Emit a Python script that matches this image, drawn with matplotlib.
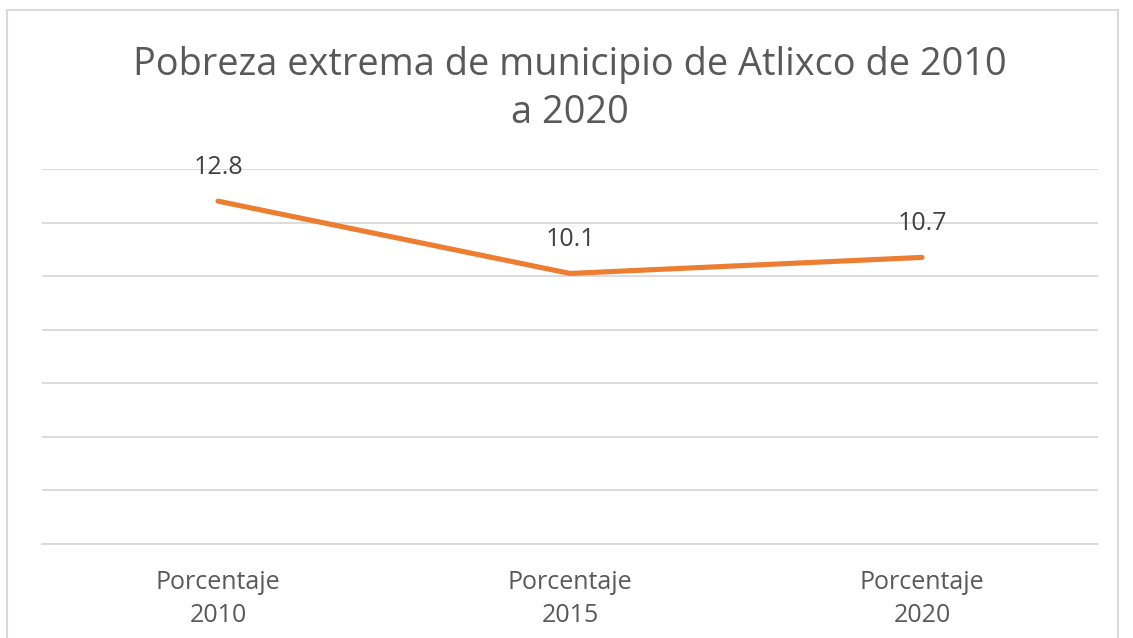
import matplotlib
matplotlib.use("Agg")
import matplotlib.pyplot as plt
from matplotlib.patches import Rectangle

categories = ["Porcentaje\n2010", "Porcentaje\n2015", "Porcentaje\n2020"]
values = [12.8, 10.1, 10.7]
labels = ["12.8", "10.1", "10.7"]
title = "Pobreza extrema de municipio de Atlixco de 2010\na 2020"

W, H = 1133, 638
fig = plt.figure(figsize=(W / 100, H / 100), dpi=100)
plt.rcParams['font.family'] = ['Open Sans', 'DejaVu Sans']

# chart border
fig.patches.append(Rectangle((7 / W, -0.01), (1118 - 7) / W, 1 - 10 / H + 0.01,
                             transform=fig.transFigure, fill=False,
                             edgecolor="#D9D9D9", linewidth=1.5))

ax = fig.add_axes([42 / W, 1 - 544 / H, (1098 - 42) / W, (544 - 169) / H])
x = list(range(len(categories)))
ax.plot(x, values, color="#ED7D31", linewidth=3.7, solid_capstyle="round", zorder=3)
ax.set_xlim(-0.5, len(categories) - 0.5)
ax.set_ylim(0, 14)
ax.set_yticks(range(0, 15, 2))
ax.yaxis.grid(True, color="#D9D9D9", linewidth=1.3)
ax.set_axisbelow(True)
for s in ["top", "right", "left"]:
    ax.spines[s].set_visible(False)
ax.spines["bottom"].set_color("#D9D9D9")
ax.spines["bottom"].set_linewidth(1.3)
ax.tick_params(axis="y", left=False, labelleft=False)
ax.tick_params(axis="x", bottom=False, pad=15, labelsize=18, labelcolor="#595959")
ax.set_xticks(x)
ax.set_xticklabels(categories, linespacing=1.42)

for xi, v, lab in zip(x, values, labels):
    ax.annotate(lab, (xi, v), xytext=(0, 24.5), textcoords="offset points",
                ha="center", va="center", fontsize=18, color="#404040")

fig.text(570 / W, 1 - 89 / H, title, ha="center", va="center",
         fontsize=27.3, color="#595959", linespacing=1.34)

fig.savefig("out.png", dpi=100, facecolor="white")
